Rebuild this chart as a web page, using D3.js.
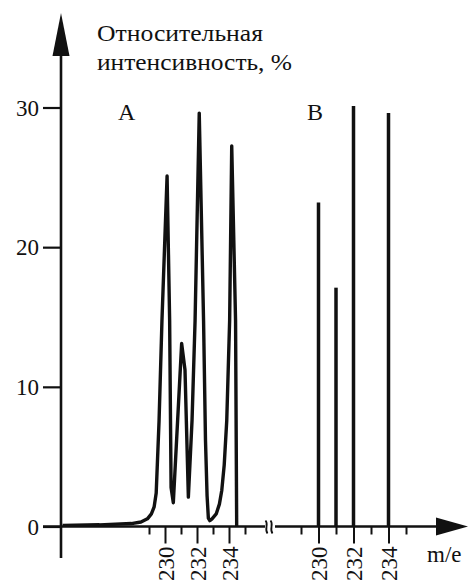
<!DOCTYPE html>
<html>
<head>
<meta charset="utf-8">
<script src="https://cdn.jsdelivr.net/npm/d3@7"></script>
<style>
  html, body { margin: 0; padding: 0; background: #fff; }
  svg { display: block; }
</style>
</head>
<body>
<svg id="chart" width="468" height="581"></svg>
<script>
// Intensity axis ticks (%)
const yTicks = [0, 10, 20, 30];
// Mass ticks shared by both panels
const minorMass = [229, 231, 233, 235];
const majorMass = [230, 232, 234];

// Panel A: recorded spectrum profile [m/e, relative intensity %]
const spectrumA = [
  [223.6, 0.08], [225.9, 0.12], [227.9, 0.21], [228.5, 0.32],
  [228.9, 0.55], [229.15, 0.9], [229.32, 1.4], [229.45, 2.4],
  [229.63, 7.6], [229.81, 14.75], [230.13, 25.1], [230.29, 14.75],
  [230.38, 2.8], [230.52, 1.7], [231.04, 13.1], [231.25, 11.2],
  [231.46, 2.1], [231.69, 7.6], [231.88, 14.75], [232.14, 29.6],
  [232.41, 14.75], [232.53, 6.2], [232.63, 2.2], [232.71, 0.6],
  [232.8, 0.42], [232.94, 0.55], [233.2, 0.9], [233.4, 1.6],
  [233.55, 2.6], [233.7, 4.4], [233.86, 7.6], [234.04, 14.75],
  [234.17, 27.25], [234.41, 14.75], [234.48, 0]
];

// Panel B: line spectrum
const massB = [230, 231, 232, 234];
const valueB = [23.2, 17.1, 30.1, 29.6];

const panelLabels = ["A", "B"];
const yTitle = ["Относительная", "интенсивность, %"];
const xTitle = "m/e";

const FONT = '"Liberation Serif", "Times New Roman", serif';

const svg = d3.select("#chart");

const y = d3.scaleLinear().domain([0, 30]).range([526.5, 107.5]);
const xA = d3.scaleLinear().domain([229, 235]).range([149, 245]);
const xB = d3.scaleLinear().domain([229, 235]).range([301, 406]);

const axisX = 61;
const axisY = y(0);
const ink = "#111";

// ---- vertical axis with arrow ----
svg.append("line")
  .attr("x1", axisX).attr("x2", axisX)
  .attr("y1", 50).attr("y2", 558)
  .attr("stroke", ink).attr("stroke-width", 2.6);
svg.append("path")
  .attr("d", `M${axisX},13 L${axisX - 8.5},56 L${axisX + 8.5},56 Z`)
  .attr("fill", ink);

const yAxis = d3.axisLeft(y).tickValues(yTicks).tickSize(18).tickPadding(4).tickFormat(d3.format("d"));
const gy = svg.append("g").attr("transform", `translate(${axisX},0)`).call(yAxis);
gy.attr("font-family", FONT);
gy.select(".domain").remove();
gy.selectAll(".tick line").attr("stroke", ink).attr("stroke-width", 2.2);
gy.selectAll(".tick text").attr("font-size", 23).attr("fill", ink).attr("dy", "0.34em");

// ---- horizontal axis with break and arrow ----
svg.append("line")
  .attr("x1", axisX - 18).attr("x2", 265)
  .attr("y1", axisY).attr("y2", axisY)
  .attr("stroke", ink).attr("stroke-width", 2.6);
svg.append("line")
  .attr("x1", 275).attr("x2", 440)
  .attr("y1", axisY).attr("y2", axisY)
  .attr("stroke", ink).attr("stroke-width", 2.6);
svg.append("path")
  .attr("d", `M468,${axisY} L436,${axisY - 9} L436,${axisY + 9} Z`)
  .attr("fill", ink);

// break marks
[267, 272].forEach(cx => {
  svg.append("path")
    .attr("d", `M${cx - 1.5},${axisY - 6} C${cx + 2},${axisY - 2} ${cx - 3},${axisY + 2} ${cx + 0.5},${axisY + 7}`)
    .attr("fill", "none").attr("stroke", ink).attr("stroke-width", 1.8);
});

function massAxis(scale) {
  const gMinor = svg.append("g").attr("transform", `translate(0,${axisY})`)
    .call(d3.axisBottom(scale).tickValues(minorMass).tickSize(8).tickFormat(""));
  gMinor.select(".domain").remove();
  gMinor.selectAll(".tick line").attr("stroke", ink).attr("stroke-width", 2);

  const gMajor = svg.append("g").attr("transform", `translate(0,${axisY})`)
    .call(d3.axisBottom(scale).tickValues(majorMass).tickSize(17).tickFormat(d3.format("d")));
  gMajor.attr("font-family", FONT);
  gMajor.select(".domain").remove();
  gMajor.selectAll(".tick line").attr("stroke", ink).attr("stroke-width", 2);
  gMajor.selectAll(".tick text")
    .attr("font-size", 23).attr("fill", ink)
    .attr("transform", "rotate(-90)")
    .attr("text-anchor", "end")
    .attr("x", -20).attr("y", 0).attr("dy", "0.35em");
}
massAxis(xA);
massAxis(xB);

// ---- panel A profile ----
const line = d3.line()
  .x(d => xA(d[0]))
  .y(d => y(d[1]))
  .curve(d3.curveLinear);
svg.append("path")
  .datum(spectrumA)
  .attr("d", line)
  .attr("fill", "none")
  .attr("stroke", ink)
  .attr("stroke-width", 3.4)
  .attr("stroke-linejoin", "round");

// ---- panel B sticks ----
svg.append("g").selectAll("line")
  .data(massB.map((m, i) => ({ m, v: valueB[i] })))
  .join("line")
  .attr("x1", d => xB(d.m)).attr("x2", d => xB(d.m))
  .attr("y1", axisY).attr("y2", d => y(d.v))
  .attr("stroke", ink).attr("stroke-width", 3.5);

// ---- labels ----
const labels = svg.append("g").attr("font-family", FONT).attr("fill", ink);
labels.append("text").attr("x", 118).attr("y", 120).attr("font-size", 24).text(panelLabels[0]);
labels.append("text").attr("x", 307).attr("y", 120).attr("font-size", 24).text(panelLabels[1]);

labels.append("text").attr("x", 97).attr("y", 41).attr("font-size", 24)
  .attr("textLength", 166).attr("lengthAdjust", "spacingAndGlyphs").text(yTitle[0]);
labels.append("text").attr("x", 97).attr("y", 70).attr("font-size", 24)
  .attr("textLength", 195).attr("lengthAdjust", "spacingAndGlyphs").text(yTitle[1]);

labels.append("text").attr("x", 427).attr("y", 562).attr("font-size", 23).text(xTitle);
</script>
</body>
</html>
